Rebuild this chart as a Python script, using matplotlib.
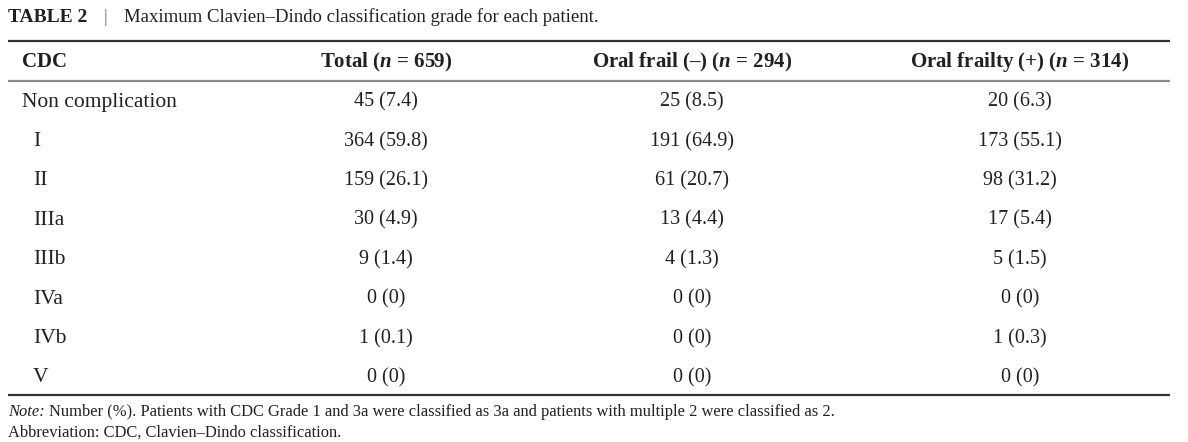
import matplotlib.pyplot as plt

plt.rcParams['font.family'] = ['Liberation Serif', 'DejaVu Serif']
plt.rcParams['mathtext.fontset'] = 'custom'
plt.rcParams['mathtext.rm'] = 'Liberation Serif'
plt.rcParams['mathtext.it'] = 'Liberation Serif:italic'
plt.rcParams['mathtext.bf'] = 'Liberation Serif:bold'
plt.rcParams['mathtext.bfit'] = 'Liberation Serif:italic:bold'

CATEGORIES = ['Non complication', 'I', 'II', 'IIIa', 'IIIb', 'IVa', 'IVb', 'V']
HEADERS = ['CDC', r'Total ($\mathbfit{n}$ = 659)',
           r'Oral frail (–) ($\mathbfit{n}$ = 294)',
           r'Oral frailty (+) ($\mathbfit{n}$ = 314)']
TOTAL_N = [45, 364, 159, 30, 9, 0, 1, 0]
TOTAL_PCT = [7.4, 59.8, 26.1, 4.9, 1.4, 0, 0.1, 0]
FRAIL_NEG_N = [25, 191, 61, 13, 4, 0, 0, 0]
FRAIL_NEG_PCT = [8.5, 64.9, 20.7, 4.4, 1.3, 0, 0, 0]
FRAIL_POS_N = [20, 173, 98, 17, 5, 0, 1, 0]
FRAIL_POS_PCT = [6.3, 55.1, 31.2, 5.4, 1.5, 0, 0.3, 0]

TITLE = 'Maximum Clavien–Dindo classification grade for each patient.'
NOTE = ('Number (%). Patients with CDC Grade 1 and 3a were classified as 3a '
        'and patients with multiple 2 were classified as 2.')
ABBREV = 'Abbreviation: CDC, Clavien–Dindo classification.'

W, H = 1188, 442
TEXT = '#231f20'
COL_X = [22, 386, 692, 1020]
ROW_Y0, ROW_DY = 102, 39.4


def fmt(n, p):
    return f'{n} ({p:g})'


def make_figure():
    fig = plt.figure(figsize=(W / 100, H / 100), dpi=100)
    ax = fig.add_axes([0, 0, 1, 1])
    ax.set_xlim(0, W)
    ax.set_ylim(H, 0)
    ax.axis('off')

    # title
    ax.text(8, 17, 'TABLE 2', fontsize=14, fontweight='bold', va='center', color=TEXT)
    ax.text(104, 17, '|', fontsize=13, va='center', color='#666666')
    ax.text(124, 17, TITLE, fontsize=13.5, va='center', color=TEXT)

    # rules
    ax.plot([8, 1170], [41, 41], color='#333333', lw=1.6, solid_capstyle='butt')
    ax.plot([8, 1170], [81, 81], color='#8a8a8a', lw=1.6, solid_capstyle='butt')
    ax.plot([8, 1170], [395, 395], color='#333333', lw=1.6, solid_capstyle='butt')

    # header
    for i, h in enumerate(HEADERS):
        ax.text(COL_X[i], 62, h, fontsize=15, fontweight='bold', va='center',
                ha='left' if i == 0 else 'center', color=TEXT)

    # body
    cols = [(TOTAL_N, TOTAL_PCT), (FRAIL_NEG_N, FRAIL_NEG_PCT), (FRAIL_POS_N, FRAIL_POS_PCT)]
    for r, cat in enumerate(CATEGORIES):
        y = ROW_Y0 + r * ROW_DY
        x = 22 if r == 0 else 33
        ax.text(x, y, cat, fontsize=15.5, va='center', color=TEXT)
        for c, (ns, ps) in enumerate(cols):
            ax.text(COL_X[c + 1], y, fmt(ns[r], ps[r]), fontsize=14.5,
                    va='center', ha='center', color=TEXT)

    # footnotes: italic "Note:" then the rest right after it on the same baseline
    note = ax.text(8, 416, 'Note:', fontsize=11.9, fontstyle='italic',
                   va='baseline', color=TEXT)
    fig.canvas.draw()
    bb = note.get_window_extent()
    x_end = ax.transData.inverted().transform((bb.x1, bb.y0))[0]
    ax.text(x_end + 4, 416, NOTE, fontsize=11.9, va='baseline', color=TEXT)
    ax.text(8, 437, ABBREV, fontsize=11.9, va='baseline', color=TEXT)

    fig.savefig('out.png', dpi=100)


if __name__ == '__main__':
    make_figure()
